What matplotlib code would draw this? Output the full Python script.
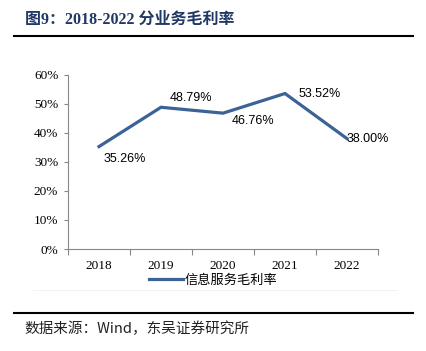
import matplotlib.pyplot as plt
from matplotlib.lines import Line2D

years = ['2018', '2019', '2020', '2021', '2022']
margin = [35.26, 48.79, 46.76, 53.52, 38.00]
series_name = '信息服务毛利率'
y_ticks = [0, 10, 20, 30, 40, 50, 60]

W, H = 426, 351
fig = plt.figure(figsize=(W / 100, H / 100), dpi=100)

# title and rules
fig.text(25 / W, 1 - 20 / H, '图9：2018-2022 分业务毛利率', fontsize=11.5, fontweight='bold',
         color='#203864', va='center', ha='left',
         family=['Liberation Serif', 'Noto Sans CJK SC'])
fig.add_artist(Line2D([14 / W, 413 / W], [1 - 36 / H] * 2, color='black', lw=1.5))
fig.add_artist(Line2D([33 / W, 397 / W], [1 - 290 / H] * 2, color='#f0f0f0', lw=0.6))
fig.add_artist(Line2D([14 / W, 413 / W], [1 - 313 / H] * 2, color='black', lw=1.5))
fig.text(24 / W, 1 - 329 / H, '数据来源：Wind，东吴证券研究所', fontsize=10.5,
         va='center', ha='left', color='#222222',
         family=['Noto Sans CJK SC', 'DejaVu Sans'])

ax = fig.add_axes([68 / W, 1 - 249 / H, 310 / W, 174.3 / H])
x = list(range(len(years)))
line, = ax.plot(x, margin, color='#3B6396', lw=2.3, solid_joinstyle='miter')

ax.set_xlim(-0.5, len(years) - 0.5)
ax.set_ylim(0, 60)
ax.set_yticks(y_ticks)
ax.set_yticklabels([f'{v}%' for v in y_ticks])
ax.set_xticks([i - 0.5 for i in range(len(years) + 1)])
ax.set_xticklabels([])
ax.set_xticks(x, minor=True)
ax.set_xticklabels(years, minor=True)
ax.tick_params(axis='x', which='minor', length=0, pad=8)
ax.tick_params(axis='x', which='major', length=4, color='#888888', direction='out')
ax.tick_params(axis='y', length=3, color='#888888', direction='out', pad=4)
for lbl in ax.get_xticklabels(minor=True) + ax.get_yticklabels():
    lbl.set_family('Liberation Serif')
    lbl.set_fontsize(9.5)
for s in ['top', 'right']:
    ax.spines[s].set_visible(False)
for s in ['left', 'bottom']:
    ax.spines[s].set_color('#888888')
    ax.spines[s].set_linewidth(0.8)

# data labels (offsets in points)
offsets = [(3, -9), (6, 7), (6, -6), (10, 0), (0, 0)]
for i, v in enumerate(margin):
    ax.annotate(f'{v:.2f}%', (i, v), xytext=offsets[i], textcoords='offset points',
                ha='left', va='center', fontsize=9, family='Liberation Sans')

fig.legend([line], [series_name], loc='center', bbox_to_anchor=(0.5, 1 - 280 / H),
           frameon=False, handlelength=2.6, handletextpad=0.1,
           prop={'family': ['Noto Sans CJK SC', 'DejaVu Sans'], 'size': 9.5})

fig.savefig('out.png', dpi=100)
